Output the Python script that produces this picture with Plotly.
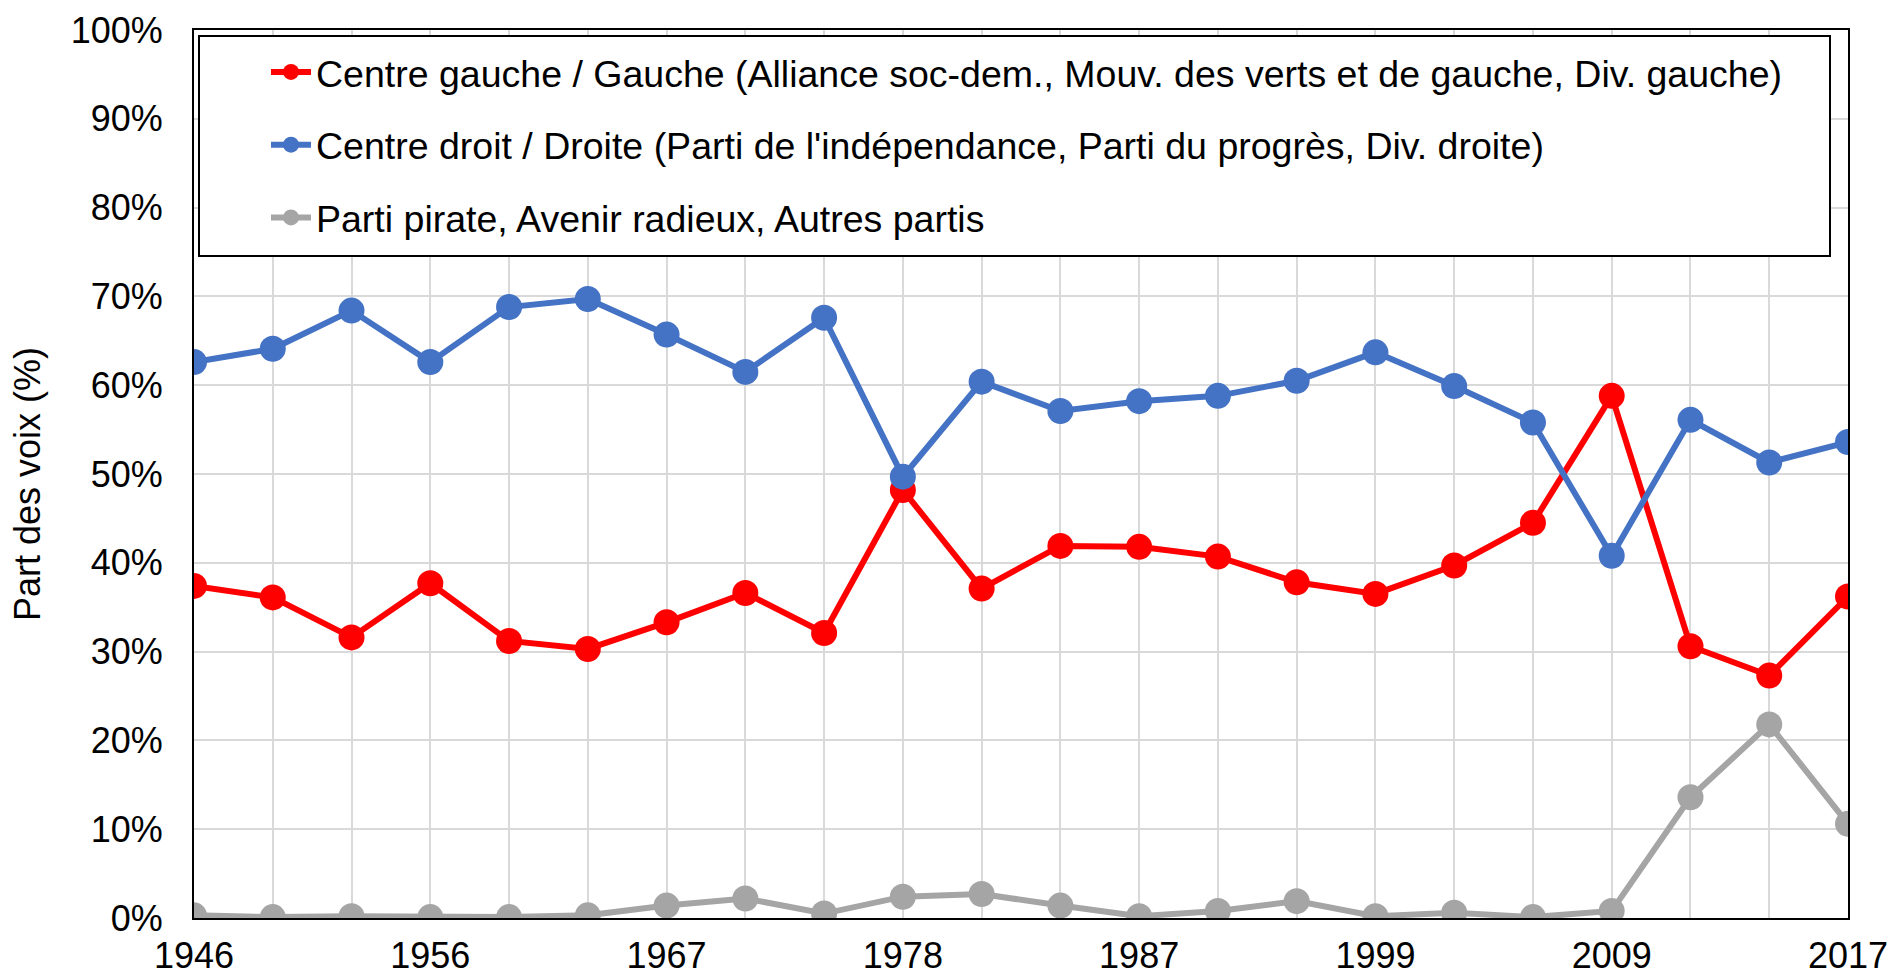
import plotly.graph_objects as go

years = ["1946", "1949", "1953", "1956", "1959", "1963", "1967", "1971", "1974", "1978", "1979",
         "1983", "1987", "1991", "1995", "1999", "2003", "2007", "2009", "2013", "2016", "2017"]

gauche = [37.4, 36.1, 31.6, 37.7, 31.2, 30.3, 33.3, 36.6, 32.1, 48.2, 37.1,
          41.9, 41.8, 40.7, 37.8, 36.5, 39.7, 44.5, 58.8, 30.6, 27.3, 36.2]
droite = [62.6, 64.1, 68.4, 62.6, 68.8, 69.7, 65.7, 61.5, 67.6, 49.7, 60.4,
          57.1, 58.2, 58.8, 60.5, 63.7, 59.9, 55.8, 40.8, 56.1, 51.3, 53.6]
autres = [0.3, 0.1, 0.2, 0.1, 0.1, 0.3, 1.4, 2.2, 0.5, 2.4, 2.7,
          1.4, 0.2, 0.8, 1.9, 0.2, 0.6, 0.1, 0.8, 13.6, 21.8, 10.6]

names = [
    "Centre gauche / Gauche (Alliance soc-dem., Mouv. des verts et de gauche, Div. gauche)",
    "Centre droit / Droite (Parti de l'indépendance, Parti du progrès, Div. droite)",
    "Parti pirate, Avenir radieux, Autres partis",
]
colors = ["#FF0000", "#4472C4", "#A5A5A5"]
shown_labels = ["1946", "1956", "1967", "1978", "1987", "1999", "2009", "2017"]
tick_text = [y if y in shown_labels else "" for y in years]

FONT = "Liberation Sans, Arial, sans-serif"

fig = go.Figure()
for i, (vals, name, col) in enumerate(zip([gauche, droite, autres], names, colors)):
    fig.add_trace(go.Scatter(
        x=years, y=vals, name=name, mode="lines+markers",
        line=dict(color=col, width=6),
        marker=dict(color=col, size=26),
        legendgroup=f"g{i}",
    ))

L, R, T, B = 194, 46, 30, 61
W, H = 1894, 979
pw, ph = W - L - R, H - T - B

def px_x(x):
    return (x - L) / pw

def px_y(y):
    return (H - B - y) / ph

fig.update_layout(
    width=W, height=H,
    margin=dict(l=L, r=R, t=T, b=B, autoexpand=False),
    plot_bgcolor="white", paper_bgcolor="white",
    font=dict(family=FONT, size=36, color="black"),
    showlegend=True,
    legend=dict(
        x=px_x(266), y=px_y(41), xanchor="left", yanchor="top",
        bgcolor="rgba(0,0,0,0)", borderwidth=0,
        font=dict(family=FONT, size=37.5, color="black"),
        tracegroupgap=21, itemwidth=40,
    ),
    xaxis=dict(
        type="category", range=[0, len(years) - 1], automargin=False,
        tickmode="array", tickvals=years, ticktext=tick_text,
        showgrid=True, gridcolor="#D9D9D9", gridwidth=2,
        showline=True, linecolor="black", linewidth=2, mirror=True,
        ticks="", tickfont=dict(size=36), ticklabelstandoff=5,
    ),
    yaxis=dict(
        range=[0, 100], dtick=10, ticksuffix="%", automargin=False,
        showgrid=True, gridcolor="#D9D9D9", gridwidth=2,
        showline=True, linecolor="black", linewidth=2, mirror=True,
        ticks="", tickfont=dict(size=36), zeroline=False,
        ticklabelstandoff=22,
    ),
    shapes=[dict(
        type="rect", xref="paper", yref="paper",
        x0=px_x(199), x1=px_x(1830), y0=px_y(256), y1=px_y(36),
        line=dict(color="black", width=2), fillcolor="white", layer="above",
    )],
    annotations=[dict(
        text="Part des voix (%)", xref="paper", yref="paper",
        x=px_x(27), y=px_y(484), textangle=-90, showarrow=False,
        xanchor="center", yanchor="middle", font=dict(size=36),
    )],
)

fig.write_html("out.html",
               config={"displayModeBar": False},
               post_script="document.body.style.margin='0';document.body.style.overflow='hidden';")
